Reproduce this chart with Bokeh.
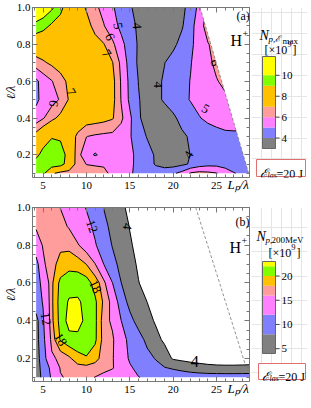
import numpy as np
from bokeh.plotting import figure
from bokeh.layouts import column, row
from bokeh.models import (LinearAxis, SingleIntervalTicker, Label, Range1d,
                          ColumnDataSource, PrintfTickFormatter)
from bokeh.core.properties import value
from bokeh.embed import file_html
from bokeh.resources import INLINE

FONT = "Liberation Serif"

# ---------------- data grid ----------------
lp_grid = [4.2, 5, 6, 7, 8, 9, 10, 11, 12, 13, 14, 15, 16, 17, 18, 19, 20, 21, 22,
           23, 24, 25, 26, 27, 28, 28.8]
ell_grid = [0.1, 0.15, 0.2, 0.3, 0.4, 0.5, 0.6, 0.7, 0.8, 0.9, 1.0]

# panel (a): N_p,Emax  [x10^9], one row per ell value
a_010 = [9.6, 9.4, 7.2, 6.6, 6.5, 6.4, 6.3, 6.2, 6.1, 5.9, 5.5, 5.1, 4.8, 4.6, 4.5, 4.6, 4.85, 5.3, 6.1, 6.3, 6.2, 6.05, 5.5, 5.05, 4.8, 4.8]
a_015 = [9.5, 9.8, 9.9, 9.6, 8.2, 6.4, 5.98, 5.95, 5.95, 5.8, 5.5, 5.15, 4.8, 4.4, 3.9, 3.6, 3.6, 3.8, 4.1, 4.5, 4.7, 4.7, 4.6, 4.5, 4.4, 4.4]
a_020 = [8.7, 9.4, 9.8, 9.6, 8.5, 6.3, 5.4, 4.9, 5.3, 5.5, 5.4, 5.2, 4.75, 4.3, 3.9, 3.6, 3.55, 3.7, 4.02, 4.2, 4.3, 4.4, 4.4, 4.4, 4.4, 4.4]
a_030 = [7.5, 8.3, 8.9, 8.8, 7.6, 6.8, 6.02, 5.85, 5.75, 5.7, 5.5, 5.1, 4.4, 3.95, 3.7, 3.6, 3.7, 3.85, 4.1, 4.3, 4.5, 4.6, 4.7, 4.7, 4.7, 4.7]
a_040 = [5.4, 5.9, 6.7, 7.3, 7.6, 7.7, 7.6, 7.5, 7.35, 7.1, 6.2, 5.2, 4.1, 3.7, 3.5, 3.6, 3.85, 4.25, 4.6, 4.95, 5.2, 5.4, 5.6, 5.7, 5.7, 5.7]
a_050 = [4.8, 5.3, 5.6, 6.1, 7.1, 7.6, 7.8, 7.8, 7.65, 7.35, 5.95, 4.8, 4.05, 3.7, 3.8, 4.1, 4.4, 4.75, 5.05, 5.3, 5.5, 5.7, 5.85, 5.95, 5.95, 5.95]
a_060 = [4.8, 5.4, 5.95, 6.6, 7.25, 7.6, 7.8, 7.8, 7.6, 7.35, 5.9, 4.75, 3.98, 3.7, 3.8, 4.1, 4.4, 4.7, 5.03, 5.4, 5.7, 5.95, 6.2, 6.3, 6.3, 6.3]
a_070 = [6.5, 6.85, 7.2, 7.5, 7.7, 7.8, 7.8, 7.7, 7.5, 7.05, 5.75, 4.6, 3.85, 3.5, 3.6, 3.98, 4.35, 4.65, 4.95, 5.4, 5.8, 6.2, 6.5, 6.5, 6.5, 6.5]
a_080 = [8.0, 7.9, 7.8, 7.8, 7.8, 7.7, 7.55, 7.35, 7.05, 6.2, 5.3, 4.5, 3.9, 3.5, 3.3, 3.4, 3.8, 4.3, 4.8, 5.4, 5.95, 6.3, 6.4, 6.4, 6.4, 6.4]
a_090 = [9.7, 9.4, 8.8, 8.5, 8.2, 7.8, 7.35, 6.7, 6.05, 5.4, 4.75, 4.3, 3.85, 3.5, 3.3, 3.35, 3.6, 3.9, 4.6, 5.6, 6.4, 6.8, 6.8, 6.8, 6.8, 6.8]
a_100 = [11.0, 10.8, 10.2, 9.3, 8.3, 7.5, 6.9, 6.2, 5.7, 5.1, 4.6, 4.1, 3.7, 3.4, 3.3, 3.4, 3.6, 3.8, 4.3, 5.3, 6.2, 6.5, 6.6, 6.6, 6.6, 6.6]

# panel (b): N_p,200MeV [x10^9]
b_010 = [6.0, 9.0, 12.5, 15.8, 16.4, 16.6, 16.4, 15.95, 15.3, 14.5, 13.5, 12.6, 12.1, 11.5, 11.0, 10.6, 10.3, 10.1, 10.0, 10.0, 10.0, 10.0, 10.0, 10.0, 10.0, 10.0]
b_015 = [6.0, 9.5, 13.0, 16.2, 16.8, 17.2, 17.3, 17.0, 16.7, 16.2, 14.5, 12.5, 11.0, 10.0, 9.0, 8.2, 7.6, 7.0, 6.3, 5.7, 5.2, 5.0, 4.9, 4.9, 5.0, 5.1]
b_020 = [6.0, 10.3, 15.5, 16.6, 17.6, 19.2, 19.8, 18.8, 17.0, 16.2, 14.2, 11.5, 10.0, 9.0, 7.8, 5.8, 3.6, 3.0, 2.5, 2.2, 2.0, 1.8, 1.8, 1.8, 1.8, 1.8]
b_030 = [6.5, 11.0, 16.8, 20.2, 21.4, 21.5, 21.3, 20.4, 17.2, 16.4, 13.6, 11.0, 9.3, 7.2, 5.0, 3.4, 2.8, 2.4, 2.1, 1.9, 1.7, 1.5, 1.4, 1.3, 1.2, 1.1]
b_040 = [6.5, 11.6, 17.5, 20.8, 22.7, 22.7, 21.5, 20.5, 17.0, 15.5, 12.05, 9.0, 6.8, 5.1, 3.6, 2.8, 2.4, 2.1, 1.9, 1.7, 1.5, 1.4, 1.3, 1.2, 1.1, 1.0]
b_050 = [10.5, 12.2, 17.6, 21.0, 22.2, 22.2, 21.6, 20.4, 17.6, 15.2, 9.8, 7.0, 5.6, 3.98, 3.0, 2.5, 2.2, 1.9, 1.7, 1.5, 1.4, 1.3, 1.2, 1.1, 1.0, 1.0]
b_060 = [10.5, 13.0, 17.6, 20.6, 21.2, 21.4, 21.0, 19.1, 16.8, 12.05, 8.05, 6.1, 4.1, 3.0, 2.5, 2.2, 1.9, 1.7, 1.5, 1.4, 1.3, 1.2, 1.1, 1.0, 1.0, 1.0]
b_070 = [10.5, 15.5, 17.5, 18.5, 19.3, 19.0, 17.95, 16.1, 11.95, 9.2, 6.9, 5.0, 3.6, 2.8, 2.3, 2.0, 1.7, 1.5, 1.4, 1.3, 1.2, 1.1, 1.0, 1.0, 1.0, 1.0]
b_080 = [14.5, 16.2, 17.2, 17.7, 17.4, 16.2, 14.8, 12.3, 10.2, 7.8, 6.2, 4.3, 3.3, 2.6, 2.2, 1.9, 1.6, 1.4, 1.3, 1.2, 1.1, 1.0, 1.0, 1.0, 1.0, 1.0]
b_090 = [16.3, 16.8, 17.0, 16.7, 15.8, 14.5, 13.0, 11.3, 9.0, 7.0, 5.2, 3.9, 3.0, 2.4, 2.0, 1.7, 1.5, 1.3, 1.2, 1.1, 1.0, 1.0, 1.0, 1.0, 1.0, 1.0]
b_100 = [17.0, 17.2, 16.8, 15.95, 14.8, 13.4, 11.8, 10.0, 7.9, 6.3, 4.6, 3.3, 2.5, 2.0, 1.7, 1.5, 1.3, 1.2, 1.1, 1.0, 1.0, 1.0, 1.0, 1.0, 1.0, 1.0]

a_levels = [3, 4, 5, 6, 7, 9, 10, 11.8]
b_levels = [4, 8, 12, 16, 18, 20, 22, 23]
band_colors = ["#808080", "#8080FF", "#FF80FF", "#FF9C9C", "#FFC000", "#80FF00", "#FFFF00"]
a_cbar_ticks = [4, 6, 8, 10]
b_cbar_ticks = [5, 10, 15, 20]

# contour labels
a_lab_x = [13.6, 15.8, 12.7, 12.3, 8.2, 6.2, 18.3, 24.8, 23.7, 21.8]
a_lab_y = [0.90, 0.90, 0.84, 0.75, 0.54, 0.48, 0.58, 0.70, 0.45, 0.20]
a_lab_t = ["5", "4", "6", "7", "7", "6", "4", "6", "5", "4"]
a_lab_deg = [-80, -85, -65, -55, -60, -100, -90, -70, -30, 60]
b_lab_x = [10.6, 14.7, 11.0, 5.3, 7.0]
b_lab_y = [0.90, 0.90, 0.58, 0.41, 0.30]
b_lab_t = ["12", "4", "18", "12", "18"]
b_lab_deg = [-70, -100, -65, -80, -60]
b_big_x = [22.5]
b_big_y = [0.185]
b_big_t = ["4"]

# boundary of the computed region (a) and dashed line (b)
a_mask_lp = [23.1, 28.7]
a_mask_ell = [1.0, 0.1]
b_dash_lp = [22.6, 28.3]
b_dash_ell = [1.0, 0.17]

X0, X1 = 3.78, 28.8
OX, OY = 2, 4                # where the layout's top-left lands in the picture
FRAME_L, FRAME_R = 29, 251   # frame edges in picture pixels
MAIN_W = FRAME_R + 2 - OX
SIDE_X = FRAME_R + 2
SIDE_W = 56
CB_L, CB_R = 11, 24          # colour bar position inside the side strip (px)
NBSP = "\u00a0"


def style_axis(ax, labels=True):
    ax.axis_line_color = "#777777"
    ax.major_tick_line_color = "#777777"
    ax.minor_tick_line_color = "#777777"
    ax.major_tick_in = 5
    ax.major_tick_out = 0
    ax.minor_tick_in = 3
    ax.minor_tick_out = 0
    ax.major_label_text_font = FONT
    if labels:
        ax.major_label_text_color = "black"
        ax.major_label_text_font_size = "11px"
    else:
        ax.major_label_text_color = None
        ax.major_label_text_font_size = "0px"
        ax.major_label_standoff = 0


def main_panel(rows, levels, y0, height, top, bottom, lab):
    p = figure(width=MAIN_W, height=height, x_range=Range1d(X0, X1), y_range=Range1d(y0, 1.0),
               output_backend="svg", toolbar_location=None,
               min_border_left=FRAME_L - OX, min_border_right=2, min_border_top=top,
               min_border_bottom=bottom)
    p.outline_line_color = None
    p.xgrid.grid_line_color = None
    p.ygrid.grid_line_color = None
    p.background_fill_color = "white"
    p.border_fill_color = "white"
    xt = SingleIntervalTicker(interval=5, num_minor_ticks=5)
    yt = SingleIntervalTicker(interval=0.2, num_minor_ticks=4)
    xa, ya = p.xaxis[0], p.yaxis[0]
    xa.ticker = xt
    ya.ticker = yt
    ya.formatter = PrintfTickFormatter(format="%.1f")
    style_axis(xa)
    style_axis(ya)
    xa.major_label_standoff = 4
    ya.major_label_standoff = 2
    # label is centred on the right end of the axis: pad it so the glyphs end there
    xa.axis_label = "Lₚ/λ" + NBSP * 7
    ya.axis_label = "ℓ/λ"
    for ax in (xa, ya):
        ax.axis_label_text_font = FONT
        ax.axis_label_text_font_style = "italic"
        ax.axis_label_text_color = "black"
    xa.axis_label_text_font_size = "13px"
    ya.axis_label_text_font_size = "12px"
    xa.axis_label_standoff = -15
    ya.axis_label_standoff = -4
    try:
        xa.axis_label_align = "end"
    except Exception:
        pass
    top_ax = LinearAxis(ticker=xt)
    right_ax = LinearAxis(ticker=yt)
    style_axis(top_ax, labels=False)
    style_axis(right_ax, labels=False)
    p.add_layout(top_ax, "above")
    p.add_layout(right_ax, "right")

    z = np.array(rows, dtype=float)
    p.contour(x=lp_grid, y=ell_grid, z=z, levels=levels, fill_color=band_colors,
              line_color="black", line_width=1.0)

    src = ColumnDataSource(dict(x=lab[0], y=lab[1], t=lab[2],
                                a=[np.deg2rad(d) for d in lab[3]]))
    p.text(x="x", y="y", text="t", angle="a", source=src, text_font=value(FONT),
           text_font_size=value("13px"), text_align="center", text_baseline="middle",
           text_color="black")
    return p


def frame_txt(fig, fb, px, py, text, size, style="normal"):
    fig.add_layout(Label(x=px - FRAME_L, y=fb - py, x_units="screen", y_units="screen",
                         text=text, text_font=FONT, text_font_size=f"{size}px",
                         text_font_style=style, text_baseline="alphabetic",
                         text_color="black"))


def side_panel(levels, ticks, height, top, bottom, T, B, cb_top, cb_bot):
    k = (levels[-1] - levels[0]) / (cb_bot - cb_top)
    ys0 = levels[0] - (B - cb_bot) * k
    ys1 = levels[-1] + (cb_top - T) * k
    s = figure(width=SIDE_W, height=height, x_range=Range1d(0, SIDE_W), y_range=Range1d(ys0, ys1),
               output_backend="svg", toolbar_location=None, x_axis_location=None,
               y_axis_location=None, min_border_left=0, min_border_right=0,
               min_border_top=top, min_border_bottom=bottom)
    s.outline_line_color = None
    s.background_fill_color = "white"
    s.border_fill_color = "white"
    src = ColumnDataSource(dict(b=levels[:-1], t=levels[1:], c=band_colors))
    s.quad(left=CB_L, right=CB_R, bottom="b", top="t", fill_color="c", line_color=None, source=src)
    s.quad(left=[CB_L], right=[CB_R], bottom=[levels[0]], top=[levels[-1]], fill_color=None,
           line_color="#666666", line_width=1)
    s.segment(x0=CB_R, x1=CB_R + 4, y0=ticks, y1=ticks, line_color="#444444", line_width=1)
    s.text(x=CB_R + 6, y=ticks, text=[str(t) for t in ticks], text_font=value(FONT),
           text_font_size=value("11px"), text_baseline="middle", text_color="black")

    def conv(py):
        return levels[0] + (cb_bot - py) * k
    return s, conv


def side_txt(s, conv, px, py, text, size, style="normal"):
    s.add_layout(Label(x=px - SIDE_X, y=conv(py), text=text, text_font=FONT,
                       text_font_size=f"{size}px", text_font_style=style,
                       text_baseline="alphabetic", text_color="black"))


def side_box(s, conv, px0, px1, py0, py1):
    s.quad(left=[px0 - SIDE_X], right=[px1 - SIDE_X], top=[conv(py0)], bottom=[conv(py1)],
           fill_color="white", line_color="#E07070", line_width=1)


# ---------------- panel (a) ----------------
FBa = 181                                  # frame bottom (picture px)
A_TOP, A_BOT = 7, 20
A_H = FBa + A_BOT - OY
FTa = OY + A_TOP
pa = main_panel([a_010, a_015, a_020, a_030, a_040, a_050, a_060, a_070, a_080, a_090, a_100],
                a_levels, 0.077, A_H, A_TOP, A_BOT, (a_lab_x, a_lab_y, a_lab_t, a_lab_deg))
pa.patch(x=[a_mask_lp[0], a_mask_lp[1], X1, X1],
         y=[a_mask_ell[0], a_mask_ell[1], a_mask_ell[1], a_mask_ell[0]],
         fill_color="white", line_color=None)
pa.line(x=a_mask_lp, y=a_mask_ell, line_color="#777777", line_width=0.8, line_dash="3 2")
frame_txt(pa, FBa, 233, 19, "(a)", 12)
frame_txt(pa, FBa, 227, 44, "H", 16)
frame_txt(pa, FBa, 239, 37, "+", 10)

sa, ca = side_panel(a_levels, a_cbar_ticks, A_H, A_TOP, A_BOT, FTa, FBa, 60, 152)
side_txt(sa, ca, 261, 39, "N", 14, "italic")
side_txt(sa, ca, 270, 42, "p,ℰ", 9, "italic")
side_txt(sa, ca, 284, 44, "max", 9)
side_txt(sa, ca, 266, 53, "[×10", 12)
side_txt(sa, ca, 289, 47, "9", 8)
side_txt(sa, ca, 294, 53, "]", 12)
side_box(sa, ca, 258, 307, 163, 180)
side_txt(sa, ca, 261, 177, "ℰ", 13, "italic")
side_txt(sa, ca, 269, 179, "las", 8, "italic")
side_txt(sa, ca, 278, 177, "=20 J", 12)

# ---------------- panel (b) ----------------
FBb = 385
B_START = OY + A_H
B_TOP, B_BOT = 211 - B_START, 22
B_H = FBb + B_BOT - B_START
FTb = 211
pb = main_panel([b_010, b_015, b_020, b_030, b_040, b_050, b_060, b_070, b_080, b_090, b_100],
                b_levels, 0.078, B_H, B_TOP, B_BOT, (b_lab_x, b_lab_y, b_lab_t, b_lab_deg))
pb.line(x=b_dash_lp, y=b_dash_ell, line_color="#777777", line_width=0.8, line_dash="3 2")
pb.text(x=b_big_x, y=b_big_y, text=b_big_t, text_font=value(FONT), text_font_size=value("17px"),
        text_align="center", text_baseline="middle", text_color="black")
frame_txt(pb, FBb, 232, 225, "(b)", 12)
frame_txt(pb, FBb, 226, 251, "H", 16)
frame_txt(pb, FBb, 238, 244, "+", 10)

sb, cb = side_panel(b_levels, b_cbar_ticks, B_H, B_TOP, B_BOT, FTb, FBb, 265, 357)
side_txt(sb, cb, 258, 240, "N", 14, "italic")
side_txt(sb, cb, 267, 243, "p,", 9, "italic")
side_txt(sb, cb, 273, 243, "200MeV", 9)
side_txt(sb, cb, 270, 256, "[×10", 12)
side_txt(sb, cb, 293, 250, "9", 8)
side_txt(sb, cb, 298, 256, "]", 12)
side_box(sb, cb, 260, 307, 367, 383)
side_txt(sb, cb, 263, 380, "ℰ", 13, "italic")
side_txt(sb, cb, 271, 382, "las", 8, "italic")
side_txt(sb, cb, 280, 380, "=20 J", 12)

layout = column(row(pa, sa, spacing=0), row(pb, sb, spacing=0), spacing=0)
open("out.html", "w").write(file_html(layout, INLINE, "plot"))
